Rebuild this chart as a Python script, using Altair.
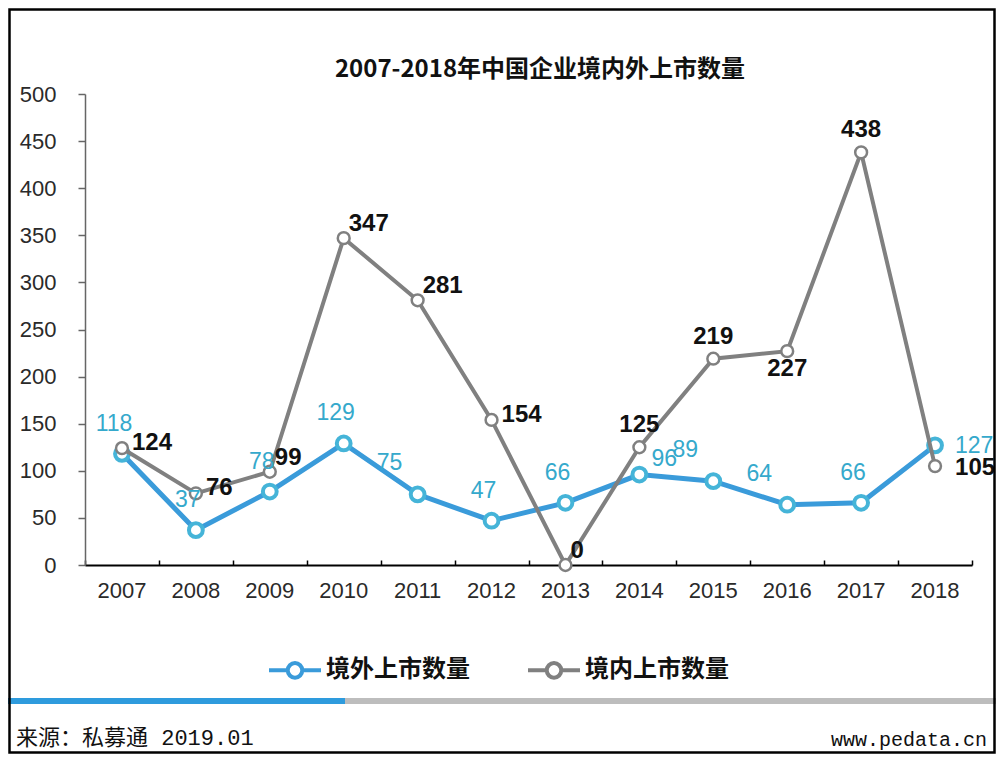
import altair as alt
import pandas as pd

# ---- data ----
years = ["2007", "2008", "2009", "2010", "2011", "2012",
         "2013", "2014", "2015", "2016", "2017", "2018"]
overseas = [118, 37, 78, 129, 75, 47, 66, 96, 89, 64, 66, 127]      # 境外上市数量
domestic = [124, 76, 99, 347, 281, 154, 0, 125, 219, 227, 438, 105]  # 境内上市数量
series_names = ["境外上市数量", "境内上市数量"]
y_ticks = [0, 50, 100, 150, 200, 250, 300, 350, 400, 450, 500]

title_text = "2007-2018年中国企业境内外上市数量"
source_text = "来源：私募通 2019.01"
site_text = "www.pedata.cn"

# label placement classes (style only)
blue_place = {"2011": "upleft", "2015": "upleft", "2016": "upleft",
              "2014": "right", "2018": "rightlow"}
gray_place = {"2007": "right", "2008": "right", "2012": "right", "2018": "rightlow",
              "2009": "upright", "2010": "upright", "2011": "upright", "2013": "upright",
              "2014": "above", "2015": "above", "2017": "above", "2016": "below"}

rows = []
for y, v in zip(years, overseas):
    rows.append({"year": y, "value": v, "series": series_names[0],
                 "place": blue_place.get(y, "above")})
for y, v in zip(years, domestic):
    rows.append({"year": y, "value": v, "series": series_names[1],
                 "place": gray_place.get(y, "right")})
df = pd.DataFrame(rows)

BLUE_LINE = "#3A9BDA"
BLUE_PT = "#45B4D8"
BLUE_TXT = "#35A9CC"
GRAY = "#808080"

W, H = 887, 471
PAD = {"left": 77, "top": 86, "right": 24, "bottom": 189}

x_scale = alt.Scale(type="band", paddingInner=0, paddingOuter=0)
x_enc = alt.X("year:O", scale=x_scale,
              axis=alt.Axis(title=None, labelAngle=0, ticks=False, domain=True,
                            domainColor="#000000", domainWidth=2,
                            labelFont="Liberation Sans", labelFontSize=22,
                            labelColor="#2a2a2a", labelPadding=15, orient="bottom"))
y_enc = alt.Y("value:Q", scale=alt.Scale(domain=[0, 500], nice=False),
              axis=alt.Axis(title=None, values=y_ticks, grid=False,
                            domainColor="#666666", domainWidth=1.5,
                            tickColor="#666666", tickSize=7, tickWidth=1.5,
                            labelFont="Liberation Sans", labelFontSize=22,
                            labelColor="#2a2a2a", labelPadding=22))

color_scale = alt.Scale(domain=series_names, range=[BLUE_LINE, GRAY])

base = alt.Chart(df)
blue = base.transform_filter(alt.datum.series == series_names[0])
gray = base.transform_filter(alt.datum.series == series_names[1])

legend_path = "M-1,0H-0.28M0.28,0H1M0.28,0A0.28,0.28,0,1,1,-0.28,0A0.28,0.28,0,1,1,0.28,0Z"

blue_line = blue.mark_line(strokeWidth=5).encode(
    x=x_enc, y=y_enc,
    color=alt.Color("series:N", scale=color_scale, sort=series_names,
                    legend=alt.Legend(title=None, orient="none", direction="horizontal",
                                      legendX=182, legendY=548,
                                      symbolType=legend_path, symbolSize=2704,
                                      symbolStrokeWidth=4, symbolFillColor="white",
                                      labelFont="Noto Sans CJK SC", labelFontSize=24,
                                      labelFontWeight="bold", labelColor="#111111",
                                      labelOffset=3, columnPadding=50)))
blue_pts = blue.mark_point(shape="circle", size=190, fill="white", fillOpacity=1,
                           stroke=BLUE_PT, strokeWidth=4, opacity=1).encode(x=x_enc, y=y_enc)
gray_line = gray.mark_line(strokeWidth=4, color=GRAY).encode(x=x_enc, y=y_enc)
gray_pts = gray.mark_point(shape="circle", size=140, fill="white", fillOpacity=1,
                           stroke=GRAY, strokeWidth=2.5, opacity=1).encode(x=x_enc, y=y_enc)

def blabel(place, **kw):
    return blue.transform_filter(alt.datum.place == place).mark_text(
        font="Liberation Sans", fontSize=23, color=BLUE_TXT, baseline="middle", **kw
    ).encode(x=x_enc, y=y_enc, text="value:Q")

def glabel(place, **kw):
    return gray.transform_filter(alt.datum.place == place).mark_text(
        font="Liberation Sans", fontSize=24, fontWeight="bold", color="#111111",
        baseline="middle", **kw
    ).encode(x=x_enc, y=y_enc, text="value:Q")

labels = [
    blabel("above", align="center", dx=-8, dy=-30),
    blabel("upleft", align="center", dx=-28, dy=-31),
    blabel("right", align="left", dx=12, dy=-16),
    blabel("rightlow", align="left", dx=20, dy=1),
    glabel("right", align="left", dx=10, dy=-5),
    glabel("rightlow", align="left", dx=20, dy=2),
    glabel("upright", align="left", dx=5, dy=-14),
    glabel("above", align="center", dx=0, dy=-22),
    glabel("below", align="center", dx=0, dy=18),
]

# x-axis tick marks pointing inward (separate axis, ticks only)
tick_axis = base.mark_point(opacity=0).encode(
    x=alt.X("year:O", scale=x_scale,
            axis=alt.Axis(title=None, orient="bottom", offset=-5, labels=False,
                          domain=False, ticks=True, tickSize=5, tickWidth=1.5,
                          tickColor="#000000", tickBand="extent")),
    y=y_enc)

# decorations
one = alt.Chart(pd.DataFrame({"k": [0]}))
title_mark = one.mark_text(text=title_text, font="Noto Sans CJK SC", fontSize=24,
                           fontWeight="bold", align="center", baseline="middle",
                           color="#111111").encode(x=alt.value(455), y=alt.value(-24))
bar_blue = one.mark_rule(color="#2E9BDD", strokeWidth=6).encode(
    x=alt.value(-80), x2=alt.value(260), y=alt.value(607))
bar_gray = one.mark_rule(color="#BDBDBD", strokeWidth=6).encode(
    x=alt.value(260), x2=alt.value(915), y=alt.value(607))
src = one.mark_text(text=source_text, font="Liberation Mono, Noto Sans CJK SC",
                    fontSize=22, align="left", baseline="middle", color="#111111").encode(
    x=alt.value(-69), y=alt.value(644))
site = one.mark_text(text=site_text, font="Liberation Mono", fontSize=20,
                     align="right", baseline="middle", color="#111111").encode(
    x=alt.value(902), y=alt.value(646))
border = one.mark_rect(filled=False, stroke="#000000", strokeWidth=2.5).encode(
    x=alt.value(-75.5), x2=alt.value(909.5), y=alt.value(-84.5), y2=alt.value(658.5))

main = alt.layer(blue_line, blue_pts, gray_line, gray_pts, *labels)

chart = alt.layer(main, tick_axis, title_mark, bar_blue, bar_gray, src, site, border).resolve_axis(
    x="independent").properties(
    width=W, height=H,
    autosize=alt.AutoSizeParams(type="none"),
    padding=PAD,
    background="white",
).configure_view(stroke=None)

chart.save("out.html", embed_options={"renderer": "svg", "actions": False})
